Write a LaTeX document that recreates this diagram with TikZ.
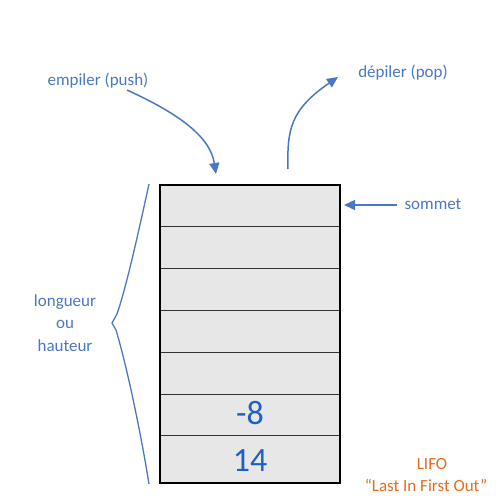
\documentclass[tikz,border=0pt]{standalone}
\usepackage{fontspec}
\setmainfont{Carlito}
\usetikzlibrary{arrows.meta}
\definecolor{lblue}{HTML}{4A78C2}
\definecolor{dblue}{HTML}{1F5FC8}
\definecolor{orng}{HTML}{E46C1E}
\definecolor{cellg}{HTML}{E7E7E7}
\begin{document}
\begin{tikzpicture}[x=1pt,y=-1pt,
  lbl/.style={text=lblue,font=\fontsize{17}{20}\selectfont,inner sep=0pt},
  num/.style={text=dblue,font=\fontsize{34}{38}\selectfont,inner sep=0pt},
  arr/.style={draw=lblue,line width=1.5pt,-{Triangle[length=11pt,width=10pt]}},
  cell/.style={fill=cellg,draw=black!80,line width=0.8pt}]
\useasboundingbox (0,0) rectangle (500,500);
% cells
\foreach \a/\b in {185/226,226/268,268/310,310/352,352/394,394/435,435/483}
  \path[cell] (160,\a) rectangle (340,\b);
\draw[line width=2pt,black] (160,185) rectangle (340,483);
\node[num] (m8) at (250,413) {-8};
\node[num] (v14) at (250,461) {14};
% labels
\node[lbl] (push) at (98,81) {empiler (push)};
\node[lbl] (pop) at (403,73) {dépiler (pop)};
\node[lbl] (som) at (433,204) {sommet};
\node[lbl,align=center,font=\fontsize{17}{22.5}\selectfont] (len) at (65,323) {longueur\\ou\\hauteur};
\node[text=orng,font=\fontsize{17}{20}\selectfont,inner sep=0pt] (lifo) at (432,464) {LIFO};
\node[text=orng,font=\fontsize{17}{20}\selectfont,inner sep=0pt] (lfo) at (426,485) {“Last In First Out”};
% arrows
\coordinate (pushs) at (127,90);
\coordinate (pushe) at (216,174);
\coordinate (pops) at (288,169);
\coordinate (pope) at (338,77);
\coordinate (soms) at (397,205);
\coordinate (some) at (344,205);
\draw[arr] (pushs) .. controls (175,112) and (210,135) .. (pushe);
\draw[arr] (pops) .. controls (287,130) and (290,110) .. (pope);
\draw[arr] (soms) -- (some);
% brace
\coordinate (bt) at (149,184);
\coordinate (bm) at (112,323);
\coordinate (bb) at (149,484);
\draw[lblue,line width=1.3pt,line join=round] (bt) .. controls (140,225) and (127,285) .. (117,314) -- (bm) -- (116,330) .. controls (128,370) and (142,440) .. (bb);
\end{tikzpicture}
\end{document}
